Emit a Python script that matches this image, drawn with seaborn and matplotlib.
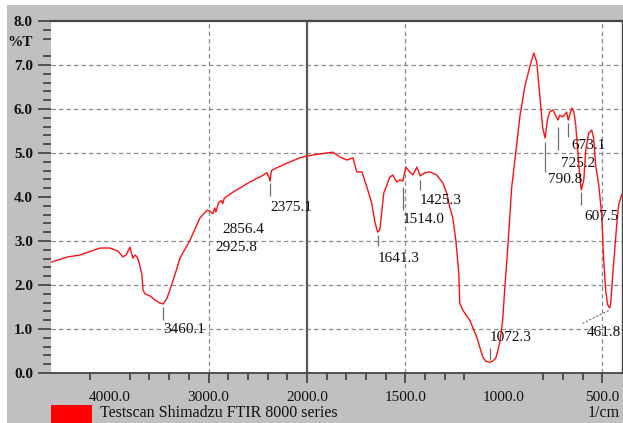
import numpy as np
import pandas as pd
import matplotlib
matplotlib.use("Agg")
import matplotlib.pyplot as plt
from matplotlib.patches import Rectangle
import seaborn as sns

# IR spectrum: wavenumber (1/cm) and transmittance (%T)
wavenumber = [
    4600, 4427, 4306, 4102, 4000, 3920, 3870, 3838, 3798, 3768, 3748, 3726,
    3706, 3676, 3666, 3646, 3594, 3544, 3494, 3460, 3422, 3392, 3342, 3290,
    3188, 3088, 3016, 2986, 2956, 2936, 2925, 2900, 2870, 2856, 2840, 2752,
    2580, 2458, 2408, 2386, 2375, 2365, 2356, 2244, 2072, 2002, 1935, 1894,
    1869, 1833, 1797, 1767, 1747, 1721, 1696, 1671, 1655, 1641, 1630, 1620,
    1610, 1579, 1564, 1544, 1528, 1514, 1498, 1478, 1462, 1442, 1425, 1402,
    1376, 1341, 1310, 1290, 1275, 1259, 1244, 1229, 1224, 1209, 1173, 1138,
    1107, 1092, 1072, 1056, 1041, 1021, 1006, 995, 980, 960, 935, 919, 894,
    869, 848, 833, 818, 803, 791, 777, 767, 752, 725, 716, 701, 681, 673,
    655, 645, 635, 625, 615, 607, 594, 584, 569, 554, 544, 534, 518, 503,
    498, 493, 483, 473, 462, 457, 447, 437, 427, 417, 402,
]
transmittance = [
    2.52, 2.64, 2.68, 2.84, 2.84, 2.77, 2.64, 2.68, 2.86, 2.61, 2.68, 2.64,
    2.52, 2.23, 1.89, 1.80, 1.75, 1.66, 1.59, 1.57, 1.70, 1.89, 2.23, 2.61,
    3.02, 3.52, 3.70, 3.68, 3.62, 3.75, 3.66, 3.86, 3.92, 3.85, 3.97, 4.11,
    4.34, 4.48, 4.55, 4.45, 4.36, 4.55, 4.61, 4.73, 4.89, 4.93, 4.98, 5.00,
    5.02, 4.91, 4.84, 4.89, 4.57, 4.57, 4.23, 3.86, 3.43, 3.20, 3.25, 3.66,
    4.09, 4.45, 4.50, 4.34, 4.39, 4.36, 4.68, 4.57, 4.50, 4.68, 4.48, 4.55,
    4.57, 4.50, 4.32, 4.09, 3.77, 3.52, 3.02, 2.27, 1.59, 1.43, 1.20, 0.82,
    0.36, 0.27, 0.24, 0.27, 0.34, 0.68, 1.20, 1.95, 2.86, 4.23, 5.18, 5.82,
    6.50, 6.95, 7.27, 7.07, 6.32, 5.59, 5.34, 5.80, 5.93, 5.98, 5.75, 5.86,
    5.82, 5.93, 5.75, 6.02, 5.95, 5.64, 5.07, 4.50, 4.16, 4.39, 5.07, 5.45,
    5.52, 5.34, 4.73, 4.27, 3.59, 3.09, 2.57, 1.89, 1.55, 1.48, 1.60, 2.23,
    2.80, 3.36, 3.82, 4.05,
]

# Peak picks (1/cm)
peak_values = [3460.1, 2925.8, 2856.4, 2375.1, 1641.3, 1514.0, 1425.3,
               1072.3, 790.8, 725.2, 673.1, 607.5, 461.8]

x_major = [4000, 3000, 2000, 1500, 1000, 500]
x_major_labels = ["4000.0", "3000.0", "2000.0", "1500.0", "1000.0", "500.0"]
y_major = [0, 1, 2, 3, 4, 5, 6, 7, 8]
y_major_labels = ["0.0", "1.0", "2.0", "3.0", "4.0", "5.0", "6.0", "7.0", "8.0"]

sns.set_style("white")
plt.rcParams["font.family"] = ["Liberation Serif", "DejaVu Serif"]

GRAY_BG = "#c0c0c0"
INK = "#111111"

fig = plt.figure(figsize=(6.23, 4.23), dpi=100, facecolor=GRAY_BG)
W, H = 623, 423
ax = fig.add_axes([51 / W, 50 / H, 571 / W, 352 / H])
ax.set_facecolor("white")

# the wavenumber axis is compressed by half above 2000 1/cm
def fwd(x):
    x = np.asarray(x, dtype=float)
    return np.where(x <= 2000, x, 2000 + (x - 2000) / 2.0)

def inv(y):
    y = np.asarray(y, dtype=float)
    return np.where(y <= 2000, y, 2000 + (y - 2000) * 2.0)

ax.set_xscale("function", functions=(fwd, inv))

df = pd.DataFrame({"wavenumber": wavenumber, "T": transmittance})
sns.lineplot(data=df, x="wavenumber", y="T", ax=ax, color="#ff1010",
             lw=1.0, estimator=None, sort=False, zorder=4)

ax.set_xlim(4600, 400)
ax.set_ylim(0, 8)
ax.set_xlabel("")
ax.set_ylabel("")

# grid
grid_kw = dict(color="#8a8a8a", lw=0.9, ls=(0, (3.5, 2.5)), zorder=1)
for yv in [1, 2, 3, 5, 6, 7]:
    ax.axhline(yv, **grid_kw)
for xv in [3000, 1500, 500]:
    ax.axvline(xv, **grid_kw)
ax.axvline(2000, color="#5a5a5a", lw=1.6, zorder=2)

# spines
for s in ["left"]:
    ax.spines[s].set_visible(False)
ax.spines["top"].set_color("#454545")
ax.spines["top"].set_linewidth(1.6)
ax.spines["bottom"].set_color("#454545")
ax.spines["bottom"].set_linewidth(1.3)
ax.spines["right"].set_color("#454545")
ax.spines["right"].set_linewidth(1.0)

# ticks
ax.set_xticks(x_major)
ax.set_xticklabels(x_major_labels)
ax.set_xticks([4200, 3800, 3600, 3400, 3200, 2800, 2600, 2400, 2200,
               1900, 1800, 1700, 1600, 1400, 1300, 1200, 800, 700, 600],
              minor=True)
ax.set_yticks(y_major)
ax.set_yticklabels(y_major_labels)
y_minor = [round(v, 1) for v in np.arange(0.2, 8.0, 0.2)
           if abs(v - round(v)) > 1e-6 and abs(v - 7.4) > 1e-6]
ax.set_yticks(y_minor, minor=True)

ax.tick_params(axis="x", which="major", direction="out", length=7.2,
               width=1.1, color="#333333", pad=5.8, labelsize=11,
               labelcolor=INK, bottom=True)
ax.tick_params(axis="x", which="minor", direction="out", length=5.0,
               width=1.1, color="#333333", bottom=True)
ax.tick_params(axis="y", which="major", direction="out", length=9.4,
               width=1.1, color="#333333", pad=3.6, labelsize=11,
               labelcolor=INK, left=True)
ax.tick_params(axis="y", which="minor", direction="out", length=5.8,
               width=1.1, color="#333333", left=True)
for lbl in ax.get_yticklabels():
    lbl.set_fontweight("bold")
for val, tick in zip(x_major, ax.xaxis.get_major_ticks()):
    if val in (4000, 1000):
        tick.tick1line.set_visible(False)

ax.text(-18 / 571, 7.5, "%T", transform=ax.get_yaxis_transform(),
        ha="right", va="center", fontsize=11, fontweight="bold", color=INK)

# peak labels: (leader bottom, leader top, text centre, text dx in points)
peak_layout = {
    3460.1: (1.20, 1.50, 0.98, 0.0),
    2925.8: (None, None, 2.86, 0.0),
    2856.4: (None, None, 3.27, 0.0),
    2375.1: (4.02, 4.32, 3.77, 0.0),
    1641.3: (2.89, 3.14, 2.61, 0.0),
    1514.0: (3.70, 4.23, 3.48, 0.0),
    1425.3: (4.16, 4.39, 3.91, 0.0),
    1072.3: (0.30, 0.57, 0.80, 0.0),
    790.8: (4.57, 5.25, 4.39, 2.0),
    725.2: (5.07, 5.59, 4.77, 2.5),
    673.1: (5.36, 5.68, 5.18, 2.5),
    607.5: (3.82, 4.11, 3.55, 2.5),
}
for val in peak_values:
    text = f"{val:.1f}"
    if val in peak_layout:
        lo, hi, ty, dx = peak_layout[val]
        if lo is not None:
            ax.vlines(val, lo, hi, color="#6e6e6e", lw=0.9, zorder=3)
        ax.annotate(text, xy=(val, ty), xytext=(dx, 0),
                    textcoords="offset points", ha="left", va="center",
                    fontsize=11, color=INK, zorder=5)
    else:
        # dashed leader running left of the band
        ax.plot([val + 6, 600], [1.42, 1.13], color="#6e6e6e", lw=0.8,
                ls=(0, (2, 1.5)), zorder=3)
        ax.annotate(text, xy=(579, 0.93), ha="left", va="center",
                    fontsize=11, color=INK, zorder=5)

# page margins
fig.add_artist(Rectangle((0, 1 - 5 / H), 1, 5 / H, transform=fig.transFigure,
                         facecolor="white", edgecolor="none", zorder=0))
fig.add_artist(Rectangle((0, 0), 7 / W, 1, transform=fig.transFigure,
                         facecolor="white", edgecolor="none", zorder=0))

# legend strip
fig.add_artist(Rectangle((51 / W, 0), 41 / W, 18 / H, transform=fig.transFigure,
                         facecolor="#ff0000", edgecolor="none"))
fig.text(100 / W, 10 / H, "Testscan Shimadzu FTIR 8000 series",
         ha="left", va="center", fontsize=11.5, color=INK)
fig.text(620 / W, 10 / H, "1/cm", ha="right", va="center", fontsize=11.5,
         color=INK)

fig.savefig("out.png", dpi=100, facecolor=GRAY_BG)
